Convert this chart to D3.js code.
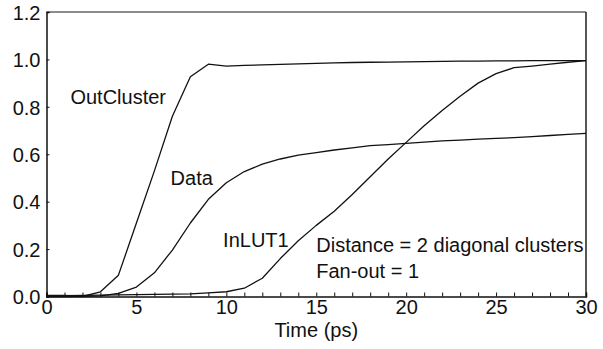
<!DOCTYPE html>
<html><head><meta charset="utf-8">
<script src="https://cdn.jsdelivr.net/npm/d3@7"></script>
<style>body{margin:0;background:#fff}svg{display:block}text{font-family:"Liberation Sans",Arial,sans-serif;fill:#111}</style>
</head><body>
<svg id="c" width="603" height="349"></svg>
<script>
const times = d3.range(0, 31);
const outCluster = [0.005,0.005,0.0,0.02,0.09,0.31,0.53,0.76,0.927,0.98,0.972,0.975,0.977,0.979,0.981,0.983,0.985,0.987,0.988,0.989,0.99,0.991,0.992,0.993,0.993,0.994,0.994,0.995,0.995,0.995,0.995];
const dataSeries = [0.0,0.0,0.001,0.003,0.013,0.04,0.10,0.196,0.31,0.41,0.48,0.527,0.558,0.58,0.596,0.607,0.618,0.627,0.636,0.641,0.646,0.651,0.656,0.66,0.664,0.667,0.670,0.674,0.679,0.684,0.688];
const inLUT1 = [0.004,0.004,0.005,0.006,0.007,0.008,0.009,0.010,0.011,0.015,0.02,0.035,0.077,0.16,0.235,0.30,0.36,0.43,0.505,0.58,0.65,0.72,0.785,0.845,0.90,0.94,0.965,0.972,0.98,0.988,0.995];
const xTicks = [0,5,10,15,20,25,30];
const yTicks = [0.0,0.2,0.4,0.6,0.8,1.0,1.2];
const labels = [
  {text:"OutCluster", t:1.33, v:0.81},
  {text:"Data", t:6.9, v:0.47},
  {text:"InLUT1", t:9.82, v:0.21},
  {text:"Distance = 2 diagonal clusters", t:15, v:0.187},
  {text:"Fan-out = 1", t:15, v:0.08}
];

const svg = d3.select("#c");
const L=46.5, R=586, T=12, B=296.5;
const x = d3.scaleLinear().domain([0,30]).range([L,R]);
const y = d3.scaleLinear().domain([0,1.2]).range([B,T]);

// frame top & right
svg.append("line").attr("x1",L).attr("x2",R).attr("y1",T).attr("y2",T).attr("stroke","#666").attr("stroke-width",1.6);
svg.append("line").attr("x1",R).attr("x2",R).attr("y1",T).attr("y2",B).attr("stroke","#111").attr("stroke-width",1.4);

// x axis
const xa = svg.append("g").attr("transform",`translate(0,${B})`)
  .call(d3.axisBottom(x).tickValues(d3.range(0,31)).tickSize(-4).tickFormat(d=> xTicks.includes(d)? d3.format("d")(d):""));
xa.select(".domain").attr("stroke","#111").attr("stroke-width",1.5);
xa.selectAll(".tick line").attr("stroke","#111").attr("stroke-width",1);
xa.selectAll(".tick text").attr("font-size",20).attr("dy",0).attr("y",17.5).attr("font-family","Liberation Sans, Arial, sans-serif").attr("fill","#111");

// y axis
const ya = svg.append("g").attr("transform",`translate(${L},0)`)
  .call(d3.axisLeft(y).tickValues(yTicks).tickSize(-3).tickPadding(6).tickFormat(d3.format(".1f")));
ya.select(".domain").attr("stroke","#111").attr("stroke-width",1.5);
ya.selectAll(".tick line").attr("stroke","#111").attr("stroke-width",1);
ya.selectAll(".tick text").attr("font-size",20).attr("x",-6).attr("dy","0.36em").attr("font-family","Liberation Sans, Arial, sans-serif").attr("fill","#111");

svg.append("text").attr("x",(L+R)/2).attr("y",336.5).attr("text-anchor","middle").attr("font-size",20).text("Time (ps)");

const line = d3.line().x((d,i)=>x(times[i])).y(d=>y(d));
[outCluster,dataSeries,inLUT1].forEach(s=>{
  svg.append("path").attr("d",line(s)).attr("fill","none").attr("stroke","#111").attr("stroke-width",1.3).attr("stroke-linejoin","round");
});

labels.forEach(l=>{
  svg.append("text").attr("x",x(l.t)).attr("y",y(l.v)).attr("font-size",20).text(l.text);
});
</script>
</body></html>
